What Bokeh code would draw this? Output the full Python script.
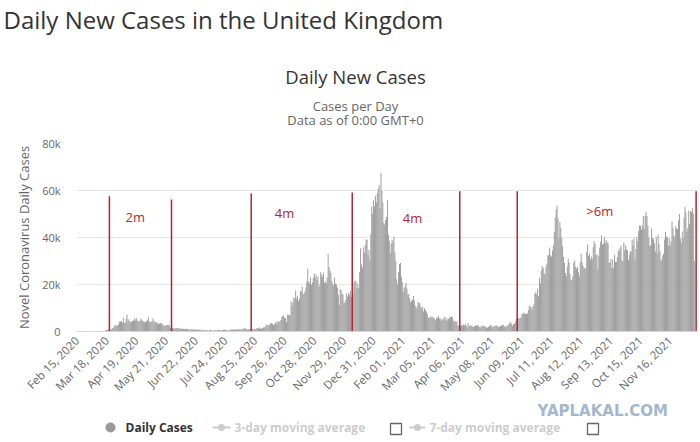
import math
import pandas as pd
from bokeh.plotting import figure
from bokeh.models import Range1d, FixedTicker
from bokeh.layouts import column
from bokeh.embed import file_html
from bokeh.resources import INLINE
from bokeh.core.properties import value

# ---------------- data (daily new cases, thousands) ----------------
start_date = "2020-02-15"
feb20 = [0, 0, 0, 0, 0, 0, 0, 0, 0, 0.002, 0, 0.002, 0.003, 0.002, 0.004]
mar20 = [0.012, 0.004, 0.013, 0.011, 0.034, 0.048, 0.043, 0.067, 0.048, 0.052,
         0.083, 0.134, 0.208, 0.342, 0.251, 0.152, 0.407, 0.676, 0.643, 0.714,
         1.035, 0.665, 0.967, 1.427, 1.452, 2.129, 2.885, 2.546, 2.433, 2.619, 3.009]
apr20 = [4.3, 4.2, 4.5, 3.7, 5.9, 3.8, 3.6, 5.5, 7.2, 4.3,
         5.2, 4.3, 3.9, 4.3, 4.6, 4.6, 5.6, 4.7, 5.9, 4.7,
         4.3, 4.5, 4.6, 5.4, 4.9, 4.5, 4.3, 3.9, 4.0, 4.5]
may20 = [4.8, 6.2, 4.3, 4.0, 3.9, 4.4, 5.6, 4.6, 3.9, 3.9,
         3.9, 3.4, 3.2, 3.4, 3.6, 3.5, 3.1, 2.7, 2.4, 2.5,
         2.6, 2.9, 2.8, 2.9, 2.4, 1.5, 1.4, 1.6, 1.4, 1.3, 1.3]
jun20 = [1.5, 1.4, 1.6, 1.4, 1.3, 1.3, 1.2, 1.1, 1.2, 1.0,
         1.1, 1.2, 1.1, 1.0, 0.9, 1.0, 0.9, 1.0, 0.9, 0.8,
         0.9, 0.7, 0.8, 0.7, 0.6, 0.9, 0.8, 0.0, 0.7, 0.6]
jul20 = [0.6, 0.5, 0.0, 0.6, 0.5, 0.3, 0.6, 0.5, 0.6, 0.0,
         0.4, 0.6, 0.5, 0.3, 0.5, 0.6, 0.7, 0.6, 0.5, 0.4,
         0.6, 0.7, 0.8, 0.6, 0.7, 0.6, 0.5, 0.0, 0.7, 0.8, 0.9]
aug20 = [0.8, 0.7, 0.7, 0.9, 0.9, 0.9, 0.9, 0.8, 1.1, 0.8,
         1.0, 1.0, 1.4, 1.1, 1.4, 1.0, 0.7, 1.0, 0.8, 1.2,
         1.0, 1.3, 1.0, 0.9, 1.2, 1.0, 1.5, 1.3, 1.4, 1.7, 1.1]
sep20 = [1.3, 1.5, 1.7, 1.9, 1.8, 2.9, 2.9, 2.5, 2.7, 3.0,
         3.5, 3.5, 3.3, 2.6, 3.1, 3.9, 3.4, 4.3, 4.4, 3.9,
         4.4, 4.9, 6.2, 6.6, 6.9, 6.0, 5.7, 4.0, 7.1, 7.1]
oct20 = [6.9, 7.0, 12.9, 11.0, 12.6, 14.5, 14.2, 17.5, 13.9, 15.2,
         12.9, 14.0, 17.2, 17.0, 19.0, 15.7, 16.2, 17.0, 18.8, 21.3,
         26.7, 21.2, 20.5, 23.0, 19.8, 20.9, 22.9, 24.7, 23.1, 24.4, 21.9]
nov20 = [23.3, 18.9, 20.0, 25.2, 24.1, 23.3, 25.0, 20.6, 21.4, 20.4,
         23.0, 33.0, 27.3, 26.0, 24.9, 21.4, 20.1, 19.6, 22.9, 20.3,
         19.9, 18.7, 15.5, 11.3, 18.2, 17.6, 16.0, 15.9, 12.2, 12.3]
dec20 = [13.4, 16.2, 14.9, 16.3, 15.5, 17.3, 14.7, 12.3, 16.6, 21.0,
         21.7, 21.5, 18.4, 20.3, 18.5, 25.2, 35.4, 28.5, 27.1, 35.9,
         33.4, 36.8, 39.2, 39.0, 32.7, 34.7, 30.5, 41.4, 53.1, 50.0, 55.9]
jan21 = [53.3, 57.7, 55.0, 58.8, 60.9, 62.3, 52.6, 67.5, 59.9, 54.9,
         46.2, 45.5, 47.5, 48.7, 55.8, 41.3, 38.6, 33.4, 37.5, 38.9,
         37.9, 40.3, 33.6, 30.0, 22.2, 20.1, 25.3, 28.7, 29.1, 23.3, 21.1]
feb21 = [16.8, 18.6, 19.2, 20.6, 18.3, 15.8, 15.8, 14.1, 12.4, 13.0,
         13.5, 15.1, 13.3, 11.0, 9.8, 10.6, 12.7, 12.1, 12.0, 10.4,
         9.8, 10.6, 8.5, 9.9, 9.0, 8.5, 7.4, 6.0]
mar21 = [5.5, 6.4, 5.8, 6.4, 6.0, 6.0, 5.2, 4.7, 5.8, 5.9,
         6.6, 5.5, 5.5, 4.6, 5.1, 5.3, 5.8, 6.3, 4.8, 5.6,
         4.6, 5.3, 6.0, 6.0, 6.4, 6.2, 4.7, 3.9, 4.6, 4.1, 4.3]
apr21 = [2.6, 2.4, 2.5, 2.3, 2.8, 2.4, 3.0, 2.6, 3.2, 2.6,
         1.7, 3.6, 2.5, 2.4, 2.6, 2.6, 2.0, 1.9, 2.5, 2.4,
         2.4, 2.8, 2.6, 2.0, 1.7, 2.1, 2.7, 2.2, 2.2, 2.4]
may21 = [1.9, 1.6, 1.7, 1.9, 2.6, 2.4, 2.6, 2.0, 1.8, 2.4,
         2.5, 2.3, 2.7, 2.2, 2.0, 1.9, 2.4, 2.4, 2.7, 2.9,
         2.0, 2.2, 1.9, 2.5, 2.7, 3.2, 3.5, 4.2, 3.2, 2.5, 3.2]
jun21 = [3.2, 4.3, 5.3, 6.2, 5.8, 5.3, 5.7, 6.0, 7.5, 7.4,
         8.1, 7.7, 7.5, 7.7, 7.7, 9.1, 11.0, 10.5, 10.3, 9.3,
         10.6, 11.6, 16.1, 16.7, 15.8, 18.3, 14.9, 22.9, 20.5, 26.1]
jul21 = [27.9, 27.1, 24.9, 24.2, 27.3, 28.8, 32.5, 32.6, 35.7, 32.4,
         31.8, 34.5, 36.7, 42.3, 48.6, 51.9, 53.5, 48.2, 39.9, 46.6,
         44.1, 39.9, 36.4, 31.8, 29.2, 24.9, 23.5, 27.7, 31.1, 29.6, 24.5]
aug21 = [21.9, 21.9, 23.5, 29.3, 30.2, 27.4, 26.7, 27.4, 25.2, 23.5,
         29.6, 33.1, 29.5, 28.0, 26.7, 27.0, 26.8, 33.9, 37.0, 32.1,
         33.0, 30.6, 31.9, 30.8, 35.8, 38.3, 37.3, 32.4, 33.0, 26.5, 32.2]
sep21 = [35.7, 38.2, 41.0, 37.0, 37.5, 40.2, 37.5, 38.9, 38.0, 37.6,
         29.5, 29.2, 30.8, 27.0, 30.6, 26.9, 32.7, 29.6, 29.6, 31.6,
         34.5, 34.5, 35.6, 36.6, 30.3, 29.6, 37.9, 34.5, 36.7, 35.1]
oct21 = [34.5, 30.3, 32.6, 34.1, 33.9, 39.0, 36.6, 39.6, 30.4, 35.1,
         40.2, 38.5, 42.8, 45.1, 44.9, 43.4, 45.1, 49.2, 43.7, 49.1,
         51.0, 49.3, 44.9, 39.9, 36.6, 36.6, 43.9, 39.8, 39.3, 37.6, 34.0]
nov21 = [40.1, 33.1, 41.3, 37.2, 34.0, 30.3, 30.7, 32.3, 33.1, 39.3,
         42.4, 40.4, 40.0, 36.5, 39.7, 36.5, 38.4, 46.8, 44.2, 40.9,
         40.0, 44.9, 43.7, 43.7, 47.2, 50.0, 39.6, 37.7, 42.6, 39.7]
dec21 = [48.4, 53.0, 50.6, 42.5, 43.9, 51.5, 45.7, 51.3, 50.9, 52.5, 50.1, 30.0]

months = [feb20, mar20, apr20, may20, jun20, jul20, aug20, sep20, oct20, nov20, dec20,
          jan21, feb21, mar21, apr21, may21, jun21, jul21, aug21, sep21, oct21, nov21, dec21]

xtick_labels = ["Feb 15, 2020", "Mar 18, 2020", "Apr 19, 2020", "May 21, 2020",
                "Jun 22, 2020", "Jul 24, 2020", "Aug 25, 2020", "Sep 26, 2020",
                "Oct 28, 2020", "Nov 29, 2020", "Dec 31, 2020", "Feb 01, 2021",
                "Mar 05, 2021", "Apr 06, 2021", "May 08, 2021", "Jun 09, 2021",
                "Jul 11, 2021", "Aug 12, 2021", "Sep 13, 2021", "Oct 15, 2021",
                "Nov 16, 2021"]
ytick_values = [0, 20000, 40000, 60000, 80000]
ytick_labels = ["0", "20k", "40k", "60k", "80k"]

# hand-drawn annotations on the screenshot
mark_dates = ["2020-03-21", "2020-05-27", "2020-08-21", "2020-12-08",
              "2021-04-03", "2021-06-04", "2021-12-14"]
mark_tops = [57600, 56200, 58700, 59100, 59700, 59700, 59700]
note_texts = ["2m", "4m", "4m", ">6m"]
note_dates = ["2020-04-18", "2020-09-26", "2021-02-11", "2021-09-01"]
note_values = [48700, 50400, 48300, 51200]

chart_title = "Daily New Cases in the United Kingdom"
plot_title = "Daily New Cases"
subtitles = ["Cases per Day", "Data as of 0:00 GMT+0"]
y_title = "Novel Coronavirus Daily Cases"
legend_labels = ["Daily Cases", "3-day moving average", "7-day moving average"]
watermark = "YAPLAKAL.COM"

# ---------------- derived ----------------
cases = [round(v * 1000) for m in months for v in m]
n = len(cases)
t0 = pd.Timestamp(start_date)
def day_index(ts):
    return (pd.Timestamp(ts) - t0).days
xs = list(range(n))
xtick_pos = [day_index(pd.to_datetime(s, format="%b %d, %Y")) for s in xtick_labels]
mark_x = [day_index(d) for d in mark_dates]
note_x = [day_index(d) for d in note_dates]

OS = "Open Sans"
RED = "#b8232f"
W = 700
H_TOP, H_MAIN, H_LEG = 133, 269, 40


def blank(height, y0):
    f = figure(width=W, height=height, x_range=Range1d(0, W),
               y_range=Range1d(y0 + height, y0), output_backend="svg",
               toolbar_location=None, min_border=0,
               x_axis_location=None, y_axis_location=None)
    f.grid.visible = False
    f.outline_line_color = None
    return f


# ---------------- header ----------------
top = blank(H_TOP, 0)
top.text(x=[3], y=[19], text=[chart_title], text_font=value(OS), text_font_size="24px",
         text_color="#333333", text_align="left", text_baseline="alphabetic")
top.text(x=[355], y=[76], text=[plot_title], text_font=value(OS), text_font_size="18.5px",
         text_color="#333333", text_align="center", text_baseline="alphabetic")
top.text(x=[355, 355], y=[105, 119], text=subtitles, text_font=value(OS),
         text_font_size="13px", text_color="#666666", text_align="center",
         text_baseline="alphabetic")

# ---------------- chart ----------------
p = figure(width=W, height=H_MAIN, x_range=Range1d(-0.5, n + 2.5), y_range=Range1d(0, 80000),
           output_backend="svg", toolbar_location=None,
           min_border_left=76, min_border_right=3, min_border_top=10, min_border_bottom=70)
p.outline_line_color = None
p.vbar(x=xs, top=cases, width=1.0, fill_color="#999999", line_color=None)
p.segment(x0=mark_x, y0=[0] * len(mark_x), x1=mark_x, y1=mark_tops,
          line_color=RED, line_width=1.5)
p.text(x=note_x, y=note_values, text=note_texts, text_font=value(OS), text_font_size="13px",
       text_color=RED, text_align="center", text_baseline="middle")

p.xaxis.ticker = FixedTicker(ticks=xtick_pos)
p.xaxis.major_label_overrides = {pos: lab for pos, lab in zip(xtick_pos, xtick_labels)}
p.xaxis.major_label_orientation = math.pi / 4
p.xaxis.axis_line_color = "#ccd6eb"
p.xaxis.major_tick_line_color = None
p.xaxis.minor_tick_line_color = None
p.xaxis.major_tick_out = 0
p.xaxis.major_label_standoff = 7
p.xaxis.major_label_text_color = "#666666"
p.xaxis.major_label_text_font = OS
p.xaxis.major_label_text_font_size = "11.5px"
p.xgrid.visible = False

p.yaxis.ticker = FixedTicker(ticks=ytick_values)
p.yaxis.major_label_overrides = dict(zip(ytick_values, ytick_labels))
p.yaxis.axis_line_color = None
p.yaxis.major_tick_line_color = None
p.yaxis.minor_tick_line_color = None
p.yaxis.major_tick_out = 0
p.yaxis.major_label_standoff = 16
p.yaxis.major_label_text_color = "#666666"
p.yaxis.major_label_text_font = OS
p.yaxis.major_label_text_font_size = "11px"
p.yaxis.axis_label = y_title
p.yaxis.axis_label_text_font = OS
p.yaxis.axis_label_text_font_style = "normal"
p.yaxis.axis_label_text_font_size = "13px"
p.yaxis.axis_label_text_color = "#666666"
p.yaxis.axis_label_standoff = 6
p.ygrid.ticker = FixedTicker(ticks=ytick_values)
p.ygrid.grid_line_color = "#e6e6e6"

# ---------------- legend strip ----------------
leg = blank(H_LEG, H_TOP + H_MAIN)
leg.text(x=[537], y=[410], text=[watermark], text_font=value("DejaVu Sans"),
         text_font_size="15px", text_font_style="bold", text_color="#a3b8cc",
         text_baseline="alphabetic")
leg.scatter(x=[110], y=[427], size=10, marker="circle", fill_color="#999999", line_color=None)
leg.text(x=[125], y=[427], text=[legend_labels[0]], text_font=value(OS), text_font_size="12px",
         text_font_style="bold", text_color="#333333", text_baseline="middle")
leg.segment(x0=[212, 409], y0=[427, 427], x1=[230, 425], y1=[427, 427],
            line_color="#cccccc", line_width=2)
leg.scatter(x=[221, 417], y=[427, 427], size=7, marker="circle", fill_color="#cccccc",
            line_color=None)
leg.text(x=[234, 429], y=[427, 427], text=legend_labels[1:], text_font=value(OS),
         text_font_size="12px", text_font_style="bold", text_color="#cccccc",
         text_baseline="middle")
leg.rect(x=[395.5, 592.5], y=[428.5, 428.5], width=11, height=11, fill_color="white",
         line_color="#666666", line_width=1.3)

for f in (top, p, leg):
    try:
        f.frame_align = False
    except Exception:
        pass

layout = column(top, p, leg, spacing=0)
open("out.html", "w").write(file_html(layout, INLINE))
